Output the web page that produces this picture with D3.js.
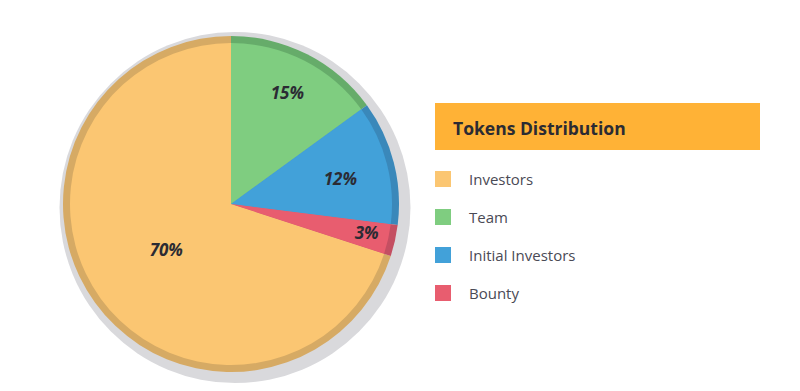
<!DOCTYPE html>
<html lang="en">
<head>
	<title> Tokens Distribution </title>
	<meta charset="utf-8">
	<script src="https://cdn.jsdelivr.net/npm/d3@7/dist/d3.min.js" charset="utf-8"></script>
</head>
<style>
	body
	{
		margin: 0;
		background-color: #fff;
	}

	.pct
	{
		font-family: "Open Sans", sans-serif;
		font-weight: 700;
		font-style: italic;
		font-size: 17px;
		fill: #2b2b33;
	}

	.title
	{
		font-family: "Open Sans", sans-serif;
		font-weight: 700;
		font-size: 17.5px;
		fill: #2b2b33;
	}

	.item
	{
		font-family: "Open Sans", sans-serif;
		font-size: 15px;
		fill: #4a4a55;
	}
</style>

<body>

	<svg id="pieChart" width="800" height="391"></svg>
	<script type="text/javascript">

		var categories = ['Investors', 'Team', 'Initial Investors', 'Bounty'],
			values = [70, 15, 12, 3],
			labels = ['70%', '15%', '12%', '3%'],
			colors = ['#fbc672', '#7fcd80', '#42a1d9', '#e85d6f'],
			rims = ['#d6aa64', '#66ac6a', '#3a88ba', '#c44f62'],
			title = 'Tokens Distribution';

		var svg = d3.select('#pieChart'),
			cx = 231, cy = 204, radius = 168, rim = 7;

		// label distance from centre, per slice
		var labelR = [80, 124, 112, 139];

		// grey drop shadow disc
		svg.append('circle')
			.attr('cx', cx + 4)
			.attr('cy', cy + 3.5)
			.attr('r', radius + 7.5)
			.attr('fill', '#d9d9dc');

		var pie = d3.pie().sort(null)
			.startAngle(-252 * Math.PI / 180)
			.endAngle(108 * Math.PI / 180);

		var arcs = pie(values);

		var g = svg.append('g')
			.attr('transform', 'translate(' + cx + ',' + cy + ')');

		var outer = d3.arc().innerRadius(0).outerRadius(radius);
		var inner = d3.arc().innerRadius(0).outerRadius(radius - rim);

		g.selectAll('.rim')
			.data(arcs)
			.enter().append('path')
			.attr('class', 'rim')
			.attr('d', outer)
			.attr('fill', function(d, i) { return rims[i]; });

		g.selectAll('.slice')
			.data(arcs)
			.enter().append('path')
			.attr('class', 'slice')
			.attr('d', inner)
			.attr('fill', function(d, i) { return colors[i]; });

		g.selectAll('.pct')
			.data(arcs)
			.enter().append('text')
			.attr('class', 'pct')
			.attr('text-anchor', 'middle')
			.attr('dy', '0.3em')
			.attr('transform', function(d, i) {
				var a = (d.startAngle + d.endAngle) / 2 + (i == 2 ? 0.035 : 0);
				return 'translate(' + (Math.sin(a) * labelR[i]) + ',' + (-Math.cos(a) * labelR[i]) + ')';
			})
			.text(function(d, i) { return labels[i]; });

		// legend
		var lg = svg.append('g').attr('transform', 'translate(435,103)');

		lg.append('rect')
			.attr('width', 325)
			.attr('height', 47)
			.attr('fill', '#ffb236');

		lg.append('text')
			.attr('class', 'title')
			.attr('x', 18)
			.attr('y', 32)
			.text(title);

		var y = d3.scalePoint().domain(categories).range([68, 182]);

		var items = lg.selectAll('.leg')
			.data(categories)
			.enter().append('g')
			.attr('class', 'leg')
			.attr('transform', function(d) { return 'translate(0,' + y(d) + ')'; });

		items.append('rect')
			.attr('width', 16)
			.attr('height', 16)
			.attr('fill', function(d, i) { return colors[i]; });

		items.append('text')
			.attr('class', 'item')
			.attr('x', 34)
			.attr('y', 14)
			.text(function(d) { return d; });
</script>
</body>
</html>
